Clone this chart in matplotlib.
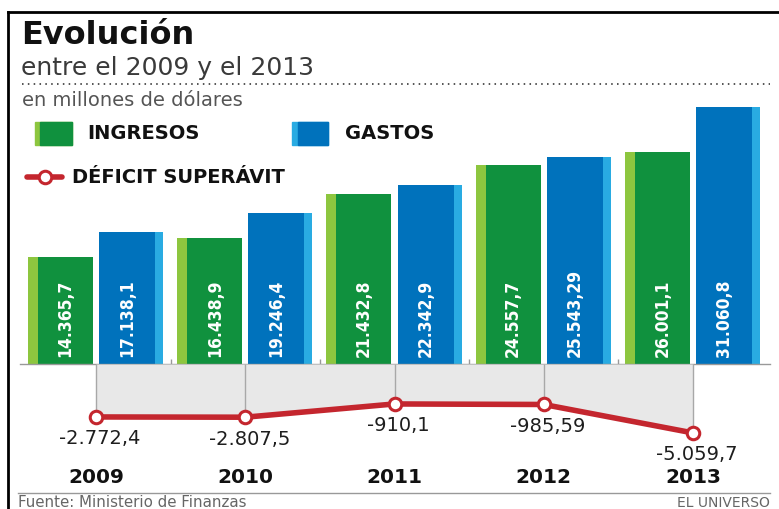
import numpy as np
import matplotlib
matplotlib.use("Agg")
import matplotlib.pyplot as plt
from matplotlib.lines import Line2D
from matplotlib.transforms import blended_transform_factory

# datos (millones de dolares)
years = ["2009", "2010", "2011", "2012", "2013"]
ingresos = [14365.7, 16438.9, 21432.8, 24557.7, 26001.1]
gastos = [17138.1, 19246.4, 22342.9, 25543.29, 31060.8]
deficit = [-2772.4, -2807.5, -910.1, -985.59, -5059.7]
ingresos_lbl = ["14.365,7", "16.438,9", "21.432,8", "24.557,7", "26.001,1"]
gastos_lbl = ["17.138,1", "19.246,4", "22.342,9", "25.543,29", "31.060,8"]
deficit_lbl = ["-2.772,4", "-2.807,5", "-910,1", "-985,59", "-5.059,7"]

GREEN = "#10913E"
LGREEN = "#8DC63F"
BLUE = "#0072BC"
LBLUE = "#29ABE2"
RED = "#C4262E"

W, H = 779, 510


def fx(px):
    return px / W


def fy(py):
    return 1 - py / H


fig = plt.figure(figsize=(W / 100, H / 100), dpi=100)
fig.patch.set_facecolor("white")

x = np.arange(len(years))
xlim = (-0.5092, 4.5159)

# frame
fig.add_artist(Line2D([fx(8), fx(8)], [fy(13), 0], color="black", lw=2))
fig.add_artist(Line2D([fx(8), 1], [fy(13), fy(13)], color="black", lw=2))

# titles
fig.text(fx(21), fy(35), "Evolución", fontsize=23, fontweight="bold",
         va="center", ha="left", color="#111111")
fig.text(fx(21), fy(68), "entre el 2009 y el 2013", fontsize=18,
         va="center", ha="left", color="#3a3a3a")
fig.add_artist(Line2D([fx(22), fx(770)], [fy(85), fy(85)], color="#555555",
                      lw=1.4, linestyle=(0, (0.8, 2.2))))
fig.text(fx(22), fy(101), "en millones de dólares", fontsize=14,
         va="center", ha="left", color="#555555")

# legend
fig.add_artist(plt.Rectangle((fx(35), fy(146)), fx(37), (146 - 123) / H,
                             color=LGREEN))
fig.add_artist(plt.Rectangle((fx(40), fy(146)), fx(32), (146 - 123) / H,
                             color=GREEN))
fig.text(fx(87), fy(134), "INGRESOS", fontsize=14, fontweight="bold",
         va="center", ha="left", color="#111111")
fig.add_artist(plt.Rectangle((fx(292), fy(146)), fx(36), (146 - 123) / H,
                             color=LBLUE))
fig.add_artist(plt.Rectangle((fx(298), fy(146)), fx(30), (146 - 123) / H,
                             color=BLUE))
fig.text(fx(345), fy(134), "GASTOS", fontsize=14, fontweight="bold",
         va="center", ha="left", color="#111111")
fig.add_artist(Line2D([fx(27), fx(62)], [fy(178), fy(178)], color=RED, lw=4,
                      solid_capstyle="round"))
fig.add_artist(Line2D([fx(45)], [fy(178)], marker="o", markersize=9,
                      markerfacecolor="white", markeredgecolor=RED,
                      markeredgewidth=2.2))
fig.text(fx(72), fy(178), "DÉFICIT SUPERÁVIT", fontsize=14,
         fontweight="bold", va="center", ha="left", color="#111111")

# bars
ax = fig.add_axes([fx(20), fy(365), fx(750), (365 - 100) / H])
ax.set_xlim(*xlim)
ax.set_ylim(2460, 31953)
ax.axis("off")

gw, gs = 0.4355, 0.067
bw, bs = 0.429, 0.054
gx = x - 0.238
bx = x + 0.235
ax.bar(gx, ingresos, width=gw, color=LGREEN)
ax.bar(gx + gs / 2, ingresos, width=gw - gs, color=GREEN)
ax.bar(bx, gastos, width=bw, color=LBLUE)
ax.bar(bx - bs / 2, gastos, width=bw - bs, color=BLUE)

ax.axhline(2460, color="#999999", lw=1, clip_on=False)
ax.vlines(x[:-1] + 0.5, 2460, 3000, color="#999999", lw=1)

tr = blended_transform_factory(ax.transData, ax.transAxes)
for i in range(len(years)):
    ax.text(gx[i] + gs / 2, 0.03, ingresos_lbl[i], transform=tr, rotation=90,
            ha="center", va="bottom", color="white", fontsize=12.5,
            fontweight="bold", fontstretch="condensed")
    ax.text(bx[i] - bs / 2, 0.03, gastos_lbl[i], transform=tr, rotation=90,
            ha="center", va="bottom", color="white", fontsize=12.5,
            fontweight="bold", fontstretch="condensed")

# deficit line
ax2 = fig.add_axes([fx(20), fy(470), fx(750), (470 - 365) / H])
ax2.set_xlim(*xlim)
top = 4814
ax2.set_ylim(-10229, top)
ax2.axis("off")
ax2.fill_between(x, deficit, top, color="#E8E8E8", lw=0)
ax2.vlines(x, deficit, top, color="#A8A8A8", lw=1)
ax2.plot(x, deficit, color=RED, lw=4, marker="o", markersize=9,
         markerfacecolor="white", markeredgecolor=RED, markeredgewidth=2.2,
         solid_capstyle="round")
for i in range(len(years)):
    ax2.annotate(deficit_lbl[i], (x[i], deficit[i]), xytext=(3, -15),
                 textcoords="offset points", ha="center", va="center",
                 fontsize=14, color="#1e1e1e")

ty = blended_transform_factory(ax2.transData, fig.transFigure)
for i in range(len(years)):
    ax2.text(x[i], fy(478), years[i], transform=ty, ha="center", va="center",
             fontsize=14.5, fontweight="bold", color="#111111")

# footer
fig.add_artist(Line2D([fx(18), fx(770)], [fy(494), fy(494)], color="#999999",
                      lw=1))
fig.text(fx(18), fy(503), "Fuente: Ministerio de Finanzas", fontsize=10.8,
         va="center", ha="left", color="#666666")
fig.text(fx(770), fy(503), "EL UNIVERSO", fontsize=10, va="center",
         ha="right", color="#666666")

fig.savefig("out.png", dpi=100, facecolor="white")
